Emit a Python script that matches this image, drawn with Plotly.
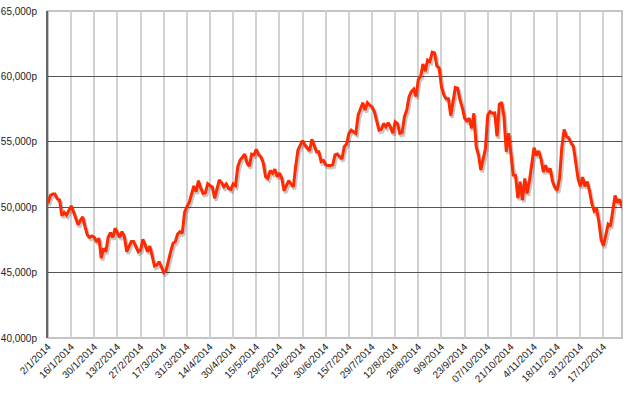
import plotly.graph_objects as go

tick_labels = ["2/1/2014", "16/1/2014", "30/1/2014", "13/2/2014", "27/2/2014", "17/3/2014",
               "31/3/2014", "14/4/2014", "30/4/2014", "15/5/2014", "29/5/2014", "13/6/2014",
               "30/6/2014", "15/7/2014", "29/7/2014", "12/8/2014", "26/8/2014", "9/9/2014",
               "23/9/2014", "07/10/2014", "21/10/2014", "4/11/2014", "18/11/2014", "3/12/2014",
               "17/12/2014"]
tick_every = 10

prices = [
    50300, 50900, 51000, 51000, 50650, 50550, 49350, 49600, 49400, 49750,
    50100, 49650, 49200, 48650, 49000, 49270, 48500, 47880, 47700, 47800,
    47700, 47350, 47630, 46100, 46850, 46600, 47700, 48050, 47700, 48390,
    48050, 47700, 48130, 47750, 46600, 47030, 47370, 47370, 46980, 46600,
    46720, 47540, 47110, 46600, 47030, 46210, 45500, 45570, 45830, 45440,
    45000, 45150, 46000, 46600, 47240, 47370, 47950, 48130, 48000, 49610,
    50050, 50350, 51000, 51620, 51190, 52030, 51450, 51060, 51110, 51800,
    51650, 51550, 50680, 51320, 52080, 51880, 51560, 51780, 51440, 51360,
    51780, 51650, 53100, 53600, 53850, 54050, 53380, 53150, 54060, 54000,
    54420, 54000, 53870, 53380, 52340, 52210, 52800, 52600, 52910, 52340,
    52600, 52210, 51260, 51700, 52030, 51780, 51560, 53120, 54370, 54750,
    55090, 54750, 54500, 54320, 55190, 54750, 54240, 54240, 53490, 53570,
    53240, 53180, 53180, 53240, 54000, 54060, 53870, 53690, 54620, 54830,
    55650, 55900, 55770, 55650, 57050, 57560, 57990, 57430, 57990, 57800,
    57680, 57300, 56700, 55900, 55950, 56400, 56150, 56460, 56100, 55650,
    56540, 56400, 55650, 55700, 56920, 57430, 58450, 58830, 59020, 58450,
    59780, 60000, 60950, 60400, 61250, 61150, 61850, 61800, 60800, 60650,
    59200, 58600, 58300, 58300, 57000, 58100, 59150, 59100, 58200, 57600,
    56790, 56600, 56790, 56030, 57180, 54620, 53980, 52850, 53600, 54490,
    57050, 57310, 57180, 57200, 55410, 57870, 58020, 56920, 54240, 55660,
    54120, 52460, 52420, 50700, 51950, 50550, 52200, 51050, 52000, 53450,
    54550, 53950, 54300, 53700, 52700, 53200, 52700, 52950, 51950, 51500,
    51300, 52200, 54600, 55950, 55400, 55300, 54900, 54650, 53450, 52200,
    51600, 52300, 51600, 51950, 51200, 50250, 49700, 49850, 48900, 47500,
    47050, 47800, 48700, 48550, 49700, 50900, 50350, 50600, 50050,
]

y_ticks = [40000, 45000, 50000, 55000, 60000, 65000]

x = list(range(len(prices)))
tick_pos = [i * tick_every for i in range(len(tick_labels))]

fig = go.Figure()
# soft drop shadow
fig.add_trace(go.Scatter(
    x=[v + 0.6 for v in x], y=[p - 180 for p in prices], mode="lines",
    line=dict(color="rgba(0,0,0,0.22)", width=3.5), hoverinfo="skip", showlegend=False))
fig.add_trace(go.Scatter(
    x=x, y=prices, mode="lines",
    line=dict(color="#ff2a00", width=3), showlegend=False))

fig.update_layout(
    width=630, height=393,
    margin=dict(l=48, r=8, t=11, b=55),
    paper_bgcolor="white", plot_bgcolor="white",
    font=dict(family="Liberation Sans, Arial, sans-serif", size=10, color="#222"),
    shapes=[dict(type="rect", xref="paper", yref="paper", x0=0, y0=0, x1=1, y1=1,
                 line=dict(color="#c4c4c4", width=2), layer="below")],
)
fig.update_xaxes(
    range=[0, len(prices) - 1], automargin=False,
    tickmode="array", tickvals=tick_pos, ticktext=tick_labels,
    tickangle=-45, tickfont=dict(size=10),
    showgrid=True, gridcolor="#d2d2d2", gridwidth=1.5,
    showline=False, zeroline=False, ticks="",
)
fig.update_yaxes(
    range=[40000, 65000], automargin=False,
    tickmode="array", tickvals=y_ticks,
    ticktext=[f"{v:,}p" for v in y_ticks],
    tickfont=dict(size=10),
    showgrid=True, gridcolor="#555555", gridwidth=1.2,
    showline=True, linecolor="#666666", linewidth=2,
    zeroline=False, ticks="", ticklabelstandoff=7,
)

fig.write_html("out.html", config={"displayModeBar": False},
               post_script="document.body.style.margin='0';")
